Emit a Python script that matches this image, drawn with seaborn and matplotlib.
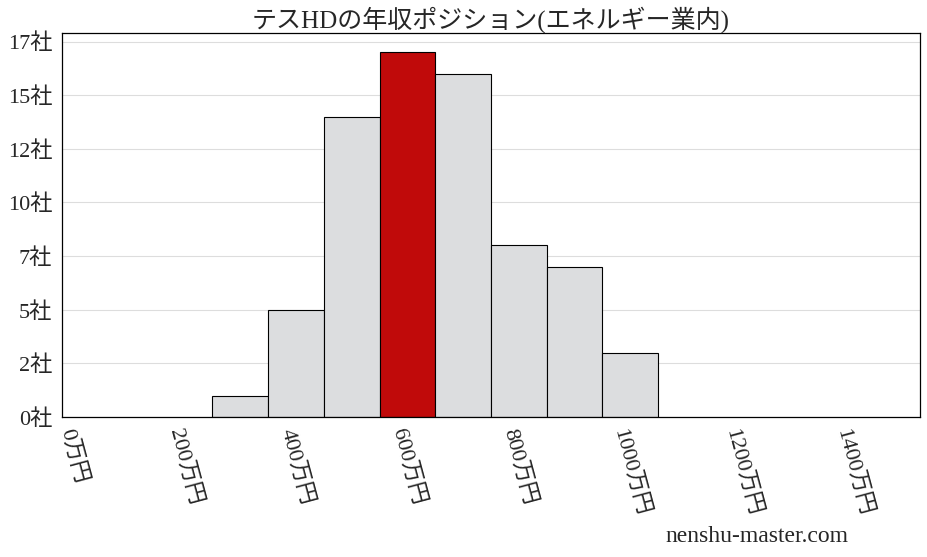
import numpy as np
import pandas as pd
import matplotlib
matplotlib.use("Agg")
import matplotlib.pyplot as plt
import seaborn as sns

# data
bin_left = [250, 350, 450, 550, 650, 750, 850, 950]
counts = [1, 5, 14, 17, 16, 8, 7, 3]
bin_width = 100
highlight_bin = 550
x_ticks = [0, 200, 400, 600, 800, 1000, 1200, 1400]
y_ticks = [0, 2.5, 5, 7.5, 10, 12.5, 15, 17.5]

sns.set_style("white")
plt.rcParams["font.family"] = ["Liberation Serif", "Noto Sans CJK JP"]

df = pd.DataFrame({
    "center": [b + bin_width / 2 for b in bin_left],
    "count": counts,
})
edges = bin_left + [bin_left[-1] + bin_width]

fig = plt.figure(figsize=(9.28, 5.57), dpi=100)
ax = fig.add_axes([0.0668, 0.2513, 0.9246, 0.6895])

sns.histplot(data=df, x="center", weights="count", bins=edges,
             color="#dcdddf", edgecolor="black", linewidth=0.8,
             alpha=1, ax=ax, zorder=2)

# red bar for the company's bin
for p, left in zip(ax.patches, bin_left):
    if left == highlight_bin:
        p.set_facecolor("#c00a0a")

ax.set_xlim(-20, 1520)
ax.set_ylim(0, 17.9)
ax.set_xticks(x_ticks)
ax.set_xticklabels([f"{v}万円" for v in x_ticks], rotation=-75,
                   ha="center", va="top", fontsize=16)
ax.set_yticks(y_ticks)
ax.set_yticklabels([f"{int(v)}社" for v in y_ticks], fontsize=16)
ax.tick_params(axis="both", direction="out", length=4, width=0.8, color="black", pad=3)
ax.yaxis.grid(True, color="#dddddd", linewidth=0.8, zorder=0)
ax.set_axisbelow(True)
for s in ax.spines.values():
    s.set_color("black")
    s.set_linewidth(0.9)

ax.set_xlabel("")
ax.set_ylabel("")
ax.set_title("テスHDの年収ポジション(エネルギー業内)", fontsize=18, pad=4)

fig.text(0.914, 0.018, "nenshu-master.com", fontsize=17, ha="right", va="bottom")

fig.savefig("out.png", dpi=100)
